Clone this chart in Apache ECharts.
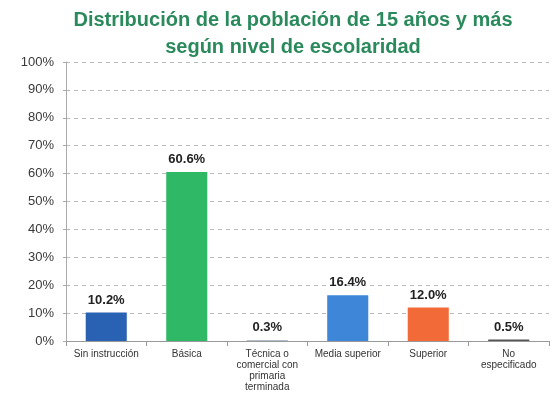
<!DOCTYPE html>
<html><head><meta charset="utf-8">
<script src="https://cdn.jsdelivr.net/npm/echarts@6/dist/echarts.min.js"></script>
<style>html,body{margin:0;padding:0;background:#fff}#c{width:553px;height:416px}</style>
</head><body><div id="c"></div>
<script>
const categories = ['Sin instrucción', 'Básica', 'Técnica o\ncomercial con\nprimaria\nterminada', 'Media superior', 'Superior', 'No\nespecificado'];
const values = [10.2, 60.6, 0.3, 16.4, 12.0, 0.5];
const barColors = ['#2a62b3', '#2fb865', '#9aa6b8', '#3d86d8', '#f26a37', '#555555'];
const yTicks = [0, 10, 20, 30, 40, 50, 60, 70, 80, 90, 100];

const chart = echarts.init(document.getElementById('c'));
chart.setOption({
  animation: false,
  title: {
    text: 'Distribución de la población de 15 años y más\nsegún nivel de escolaridad',
    left: 288, top: 2, textAlign: 'center',
    textStyle: { color: '#2a8a5c', fontSize: 20, fontWeight: 'bold', fontFamily: 'Liberation Sans', lineHeight: 27 }
  },
  grid: { left: 66, right: 4, top: 62, bottom: 75 },
  xAxis: {
    type: 'category', data: categories,
    axisLine: { lineStyle: { color: '#999' } },
    axisTick: { show: true, alignWithLabel: false, lineStyle: { color: '#999' } },
    axisLabel: { interval: 0, color: '#333', fontSize: 10, fontFamily: 'Liberation Sans', lineHeight: 11, margin: 8 }
  },
  yAxis: {
    type: 'value', min: 0, max: 100, interval: 10,
    axisLine: { show: true, lineStyle: { color: '#aaa' } },
    axisTick: { show: true, length: 3, lineStyle: { color: '#aaa' } },
    splitLine: { lineStyle: { type: [4, 4], color: '#bbb' } },
    axisLabel: { color: '#3a3a3a', fontSize: 13, fontFamily: 'Liberation Sans', formatter: v => yTicks.includes(v) ? v + '%' : '', margin: 12 }
  },
  series: [{
    type: 'bar', barWidth: '51%',
    data: values.map((v, i) => ({ value: v, itemStyle: { color: barColors[i] } })),
    label: { show: true, position: 'top', distance: 6, formatter: p => p.value.toFixed(1) + '%', color: '#222', fontSize: 13, fontWeight: 'bold', fontFamily: 'Liberation Sans' }
  }]
});
</script></body></html>
